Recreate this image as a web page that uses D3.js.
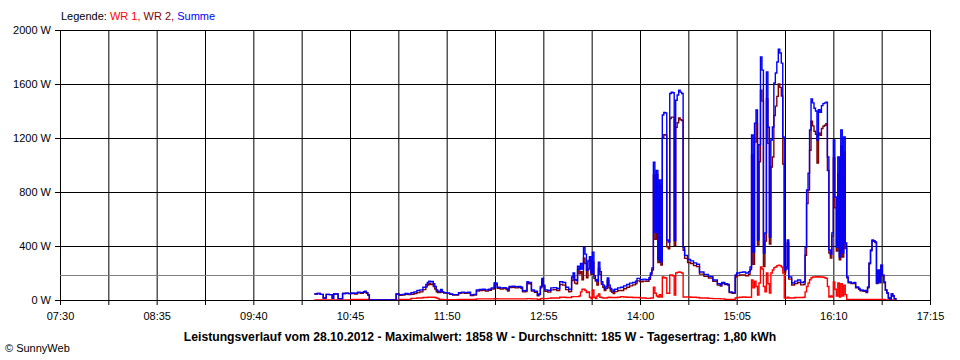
<!DOCTYPE html>
<html><head><meta charset="utf-8">
<script src="https://cdn.jsdelivr.net/npm/d3@7"></script>
<style>
html,body{margin:0;padding:0;background:#fff;}
svg{display:block;font-family:"Liberation Sans",Arial,sans-serif;}
</style></head>
<body>
<svg id="c" width="960" height="360"></svg>
<script>
const xTickLabels = ["07:30","08:35","09:40","10:45","11:50","12:55","14:00","15:05","16:10","17:15"];
const yTicks = [0,400,800,1200,1600,2000];
const average = 185;
const titleText = "Leistungsverlauf vom 28.10.2012 - Maximalwert: 1858 W - Durchschnitt: 185 W - Tagesertrag: 1,80 kWh";
const seriesNames = ["WR 1","WR 2","Summe"];

const times = ["10:21","10:23","10:25","10:27","10:29","10:31","10:33","10:34","10:36","10:37","10:40","10:42","10:44","10:46","10:48","10:50","10:52","10:54","10:55","10:56","10:57","10:58",
"11:16","11:18","11:20","11:22","11:24","11:26","11:28","11:30","11:32","11:34","11:36","11:37","11:38","11:39","11:40","11:41","11:42","11:43","11:44","11:45","11:46","11:47","11:48","11:50","11:52","11:54","11:56","11:58",
"12:00","12:02","12:04","12:06","12:08","12:10","12:12","12:14","12:16","12:18","12:20","12:22","12:23","12:24","12:26","12:28","12:30","12:31","12:32","12:34","12:36","12:38","12:40","12:41","12:43","12:44","12:45","12:47","12:49","12:51","12:52","12:53","12:54","12:55","12:56","12:58",
"13:00","13:02","13:04","13:06","13:08","13:10","13:12","13:13","13:14","13:15","13:16","13:17","13:18","13:19","13:20","13:21","13:22","13:23","13:24","13:25","13:26","13:27","13:28","13:29","13:30","13:31","13:32","13:33","13:34","13:35","13:36","13:37","13:38","13:39","13:40","13:41","13:42","13:43","13:45","13:47","13:49","13:51","13:53","13:55","13:57","13:58",
"14:00","14:02","14:04","14:06","14:07","14:08","14:09","14:10","14:11","14:12","14:13","14:14","14:15","14:16","14:17","14:18","14:19","14:20","14:21","14:22","14:23","14:24","14:25","14:26","14:27","14:28","14:29","14:30","14:32","14:34","14:36","14:38","14:40","14:43","14:46","14:49","14:52","14:54","14:55","14:57","14:59",
"15:00","15:02","15:04","15:05","15:07","15:09","15:11","15:13","15:14","15:15","15:16","15:17","15:18","15:19","15:20","15:21","15:22","15:23","15:24","15:25","15:26","15:27","15:28","15:29","15:30","15:31","15:32","15:33","15:34","15:35","15:36","15:37","15:38","15:39","15:40","15:42","15:44","15:46","15:48","15:50","15:51","15:52","15:53","15:54","15:55","15:56","15:57","15:58","15:59",
"16:00","16:01","16:02","16:03","16:04","16:05","16:06","16:07","16:08","16:09","16:10","16:11","16:12","16:13","16:14","16:15","16:16","16:17","16:18","16:19","16:20","16:22","16:24","16:25","16:27","16:28","16:30","16:32","16:33","16:34","16:35","16:36","16:37","16:38","16:39","16:40","16:41","16:42","16:43","16:44","16:45","16:46","16:47","16:48","16:49","16:50","16:51","16:52"];

const summe = [45,48,42,15,42,40,12,45,44,10,48,50,47,52,50,58,55,62,65,55,40,0,
45,40,42,48,45,55,60,70,75,95,115,130,140,135,138,120,100,75,65,60,78,62,55,52,45,40,40,55,
58,55,57,38,42,75,78,80,75,80,90,128,125,95,90,92,85,75,100,102,98,100,95,68,70,135,130,74,65,37,45,100,160,110,75,70,
90,92,85,135,130,95,78,80,170,200,150,145,250,225,270,230,390,340,220,290,320,200,355,180,150,140,280,210,135,110,85,100,163,110,85,75,65,80,90,95,105,115,125,130,140,160,
150,155,150,165,200,237,1020,500,960,300,890,281,1370,1390,1385,444,430,1530,1540,1535,440,1480,1518,1555,1540,1530,390,330,300,290,275,265,207,190,175,148,120,111,130,120,115,
60,55,185,200,205,207,200,210,245,1222,355,1310,1407,444,1150,1800,1703,348,496,1690,1280,467,1185,1281,1607,1681,1763,1858,1830,1755,1207,222,245,444,170,126,140,148,130,135,392,815,940,1259,1490,1460,1420,1400,1185,
1410,1390,1440,1455,1460,1466,1059,370,340,496,1185,763,392,1059,320,1259,348,1207,422,170,133,126,130,96,85,74,70,60,96,274,370,444,440,430,126,222,133,260,185,133,74,52,15,0,44,30,10,0];

const wr1 = [0,0,0,0,0,0,0,0,0,0,0,0,0,5,5,5,5,5,5,5,5,0,
0,5,5,5,5,12,12,15,15,18,18,20,20,20,20,20,18,15,10,5,5,5,3,3,3,3,3,5,
5,5,5,5,5,8,8,8,8,8,8,10,10,8,8,8,8,8,8,8,8,8,8,8,8,10,10,8,8,5,5,10,12,10,10,12,
15,15,15,20,20,18,18,18,25,25,25,25,25,30,60,80,80,70,55,60,20,10,74,20,10,30,45,20,18,15,15,15,18,20,18,18,18,18,20,25,22,20,20,18,18,18,
15,15,12,12,15,15,95,50,30,22,40,22,170,165,163,50,50,185,185,180,37,200,205,207,205,200,22,22,22,20,20,18,15,15,12,10,10,8,8,5,5,
5,5,15,18,20,22,20,20,20,148,90,140,100,37,126,245,230,100,60,200,120,52,200,222,240,245,255,258,255,245,200,15,15,20,15,15,18,18,18,20,60,100,126,150,165,170,170,172,170,
172,170,170,168,165,160,100,22,30,22,133,80,30,126,22,120,30,110,40,5,5,5,5,5,5,5,5,5,5,5,5,5,5,5,5,5,5,5,5,5,0,0,0,0,0,0,0,0];

const wr2 = [45,48,42,15,42,40,12,45,44,10,48,50,47,47,45,53,50,57,60,50,35,0,
45,35,37,43,40,43,48,55,60,77,97,110,120,115,118,100,82,60,55,55,73,57,52,49,42,37,37,50,
53,50,52,33,37,67,70,72,67,72,82,118,115,87,82,84,77,67,92,94,90,92,87,60,62,125,120,66,57,32,40,90,148,100,65,58,
75,77,70,115,110,77,60,62,145,175,125,120,225,195,210,150,310,270,165,230,300,190,281,160,140,110,235,190,117,95,70,85,145,90,67,57,47,62,70,70,83,95,105,112,122,142,
135,140,138,153,185,222,925,450,930,278,850,259,1200,1225,1222,394,380,1345,1355,1355,403,1280,1313,1348,1335,1330,368,308,278,270,255,247,192,175,163,138,110,103,122,115,110,
55,50,170,182,185,185,180,190,225,1074,265,1170,1307,407,1024,1555,1473,248,436,1490,1160,415,985,1059,1367,1436,1508,1600,1575,1510,1007,207,230,424,155,111,122,130,112,115,332,715,814,1109,1325,1290,1250,1228,1015,
1238,1220,1270,1287,1295,1306,959,348,310,474,1052,683,362,933,298,1139,318,1097,382,165,128,121,125,91,80,69,65,55,91,269,365,439,435,425,121,217,128,255,180,128,74,52,15,0,44,30,10,0];

const colors = {"WR 1":"#ff0000","WR 2":"#800000","Summe":"#0000ff"};

const svg = d3.select("#c");
svg.append("rect").attr("width",960).attr("height",360).attr("fill","#fff");
const parse = d3.timeParse("%Y-%m-%d %H:%M");
const T = s => parse("2012-10-28 " + s);

const x = d3.scaleTime().domain([T(xTickLabels[0]), T(xTickLabels[xTickLabels.length-1])]).range([60, 930]);
const y = d3.scaleLinear().domain([0, 2000]).range([300, 30]);

// grid times: labels and midpoints
const gridTimes = [];
xTickLabels.forEach((l,i) => {
  const t = T(l);
  gridTimes.push(t);
  if (i < xTickLabels.length-1) gridTimes.push(new Date(t.getTime() + 32.5*60000));
});
const labelSet = new Set(xTickLabels);
const fmt = d3.timeFormat("%H:%M");

const xAxis = d3.axisBottom(x).tickValues(gridTimes).tickSize(-275).tickPadding(7)
  .tickFormat(d => (d.getSeconds()===0 && labelSet.has(fmt(d))) ? fmt(d) : "");
const gx = svg.append("g").attr("transform","translate(0,305)").call(xAxis);
gx.select(".domain").remove();
gx.selectAll("line").attr("stroke","#000");
gx.selectAll("text").attr("fill","#000").style("font-size","11px").style("font-family","'Liberation Sans',Arial,sans-serif");

const yAxis = d3.axisLeft(y).tickValues(yTicks).tickSize(-875).tickPadding(4).tickFormat(d => d + " W");
const gy = svg.append("g").attr("transform","translate(55,0)").call(yAxis);
gy.select(".domain").remove();
gy.selectAll("line").attr("stroke","#000");
gy.selectAll("text").attr("fill","#000").style("font-size","11px").style("font-family","'Liberation Sans',Arial,sans-serif");

// average line
svg.append("line").attr("x1",60).attr("x2",930).attr("y1",Math.round(y(average))+0.5).attr("y2",Math.round(y(average))+0.5)
  .attr("stroke","#808080").attr("stroke-width",1);

const pts = arr => times.map((t,i) => ({t:T(t), v:arr[i]}));
const line = d3.line().x(d => x(d.t)).y(d => y(d.v)).curve(d3.curveStepAfter);
[["WR 1",wr1],["WR 2",wr2],["Summe",summe]].forEach(([name,arr]) => {
  svg.append("path").datum(pts(arr)).attr("d",line).attr("fill","none")
    .attr("stroke",colors[name]).attr("stroke-width",1.4).attr("stroke-linejoin","miter");
});

// redraw baseline on top
svg.append("line").attr("x1",55).attr("x2",930).attr("y1",y(0)+0.5).attr("y2",y(0)+0.5).attr("stroke","#000");

// legend
const leg = svg.append("text").attr("x",61).attr("y",20).style("font-size","11px");
leg.append("tspan").attr("fill","#000").text("Legende: ");
seriesNames.forEach((n,i) => {
  leg.append("tspan").attr("fill",colors[n]).text(n + (i < seriesNames.length-1 ? ", " : ""));
});

// title
const title = svg.append("text").attr("x",480).attr("y",341).attr("text-anchor","middle")
  .style("font-size","12px").style("font-weight","bold").attr("fill","#000").text(titleText);
const w = title.node().getComputedTextLength();
title.style("font-size", (12*593/w).toFixed(2)+"px");

svg.append("text").attr("x",5).attr("y",352).style("font-size","11px").attr("fill","#000").text("© SunnyWeb");
</script>
</body></html>
